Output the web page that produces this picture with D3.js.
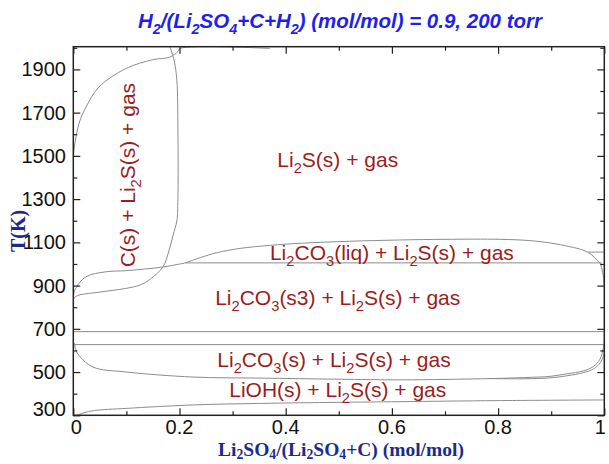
<!DOCTYPE html>
<meta charset='utf-8'>
<style>
  body { margin: 0; background: #fff; }
  .curve { fill: none; stroke: #8c8c8c; stroke-width: 1px; }
  .frame { fill: none; stroke: #222; stroke-width: 1.5px; }
  .ticklab { font-family: "Liberation Sans", Arial, sans-serif; font-size: 20px; fill: #111; }
  .region { font-family: "Liberation Sans", Arial, sans-serif; font-size: 21px; fill: #9b1d1d; }
</style>
<div id="chart"></div>
<script src="https://d3js.org/d3.v7.min.js"></script>
<script>
// tick labels
var xTicks = [0, 0.2, 0.4, 0.6, 0.8, 1];
var xTickLabels = ["0", "0.2", "0.4", "0.6", "0.8", "1"];
var yTicks = [300, 500, 700, 900, 1100, 1300, 1500, 1700, 1900];

// phase boundaries, [Li2SO4 fraction, T(K)]
var cLeft = [[0, 1490], [0.002, 1541], [0.011, 1652], [0.024, 1726], [0.048, 1818], [0.099, 1904],
  [0.150, 1945], [0.182, 1957], [0.197, 1983], [0.201, 1997], [0.37, 1997]];
var cRight = [[0.182, 2005], [0.190, 1940], [0.195, 1850], [0.197, 1620], [0.197, 1300], [0.195, 1200],
  [0.188, 1134], [0.180, 1060], [0.169, 987], [0.145, 930], [0.126, 903], [0.099, 887], [0.05, 870],
  [0.011, 856], [0.002, 845], [0, 835]];
var liqLeft = [[0.211, 1005], [0.169, 986], [0.099, 969], [0.062, 964], [0.024, 941], [0.005, 889],
  [0, 850], [0, 640]];
var liqTop = [[0.211, 1005], [0.24, 1030], [0.27, 1052], [0.314, 1072], [0.37, 1086], [0.43, 1096],
  [0.52, 1105], [0.615, 1111], [0.70, 1114], [0.804, 1114], [0.86, 1108], [0.898, 1097], [0.935, 1080],
  [0.960, 1064], [0.975, 1045], [0.986, 1018], [0.992, 1004], [0.997, 960], [1.0, 900], [1.0, 640]];
var liqBottom = [[0.211, 1005], [0.995, 1005]];
var rightStub = [[0.969, 1055], [1.0, 1055]];
var s3Top = [[0, 687], [1, 687]];
var s3Bottom = [[0, 627], [1, 627]];
var li2co3Bottom = [[0.002, 634], [0.005, 600], [0.013, 570], [0.037, 523], [0.101, 500], [0.225, 477],
  [0.352, 472], [0.50, 467], [0.615, 464], [0.70, 466], [0.804, 471], [0.866, 476], [0.898, 480],
  [0.930, 492], [0.960, 505], [0.979, 525], [0.992, 560], [0.998, 610], [1.0, 640]];
var li2co3Bottom2 = [[0.78, 470], [0.85, 469], [0.898, 473], [0.930, 483], [0.960, 497], [0.980, 515],
  [0.993, 545], [1.0, 587]];
var liohTop = [[0.003, 300], [0.010, 303], [0.02, 312], [0.04, 322], [0.1, 332], [0.226, 348],
  [0.352, 355], [0.5, 360], [0.615, 363], [0.8, 368], [1.0, 371]];

var curves = [cLeft, cRight, liqLeft, liqTop, liqBottom, rightStub, s3Top, s3Bottom,
  li2co3Bottom, li2co3Bottom2, liohTop];

// region names (_n = subscript) and where they sit, [x, T]
var regionNames = ["Li_2S(s) + gas", "C(s) + Li_2S(s) + gas", "Li_2CO_3(liq) + Li_2S(s) + gas",
  "Li_2CO_3(s3) + Li_2S(s) + gas", "Li_2CO_3(s) + Li_2S(s) + gas", "LiOH(s) + Li_2S(s) + gas"];
var regionAt = [[0.498, 1481], [0.103, 1411], [0.600, 1050], [0.498, 842], [0.491, 556], [0.498, 417]];

var width = 609, height = 464;
var svg = d3.select("#chart").append("svg")
  .attr("width", width)
  .attr("height", height);

var x = d3.scaleLinear().domain([0, 1]).range([73.3, 604.3]);
var y = d3.scaleLinear().domain([300, 2005]).range([415.3, 46.7]);

// writes "Li_2S" style strings with subscripts
function rich(text, str, fs, drop) {
  var parts = str.split(/(_\d)/);
  var shift = 0;
  drop = drop || 0.28;
  parts.forEach(function(p) {
    if (p === "") return;
    if (p[0] === "_") {
      text.append("tspan").attr("font-size", fs * 0.7).attr("dy", fs * drop).text(p[1]);
      shift = 1;
    } else {
      text.append("tspan").attr("dy", shift ? -fs * drop : 0).text(p);
      shift = 0;
    }
  });
}

svg.append("clipPath").attr("id", "clip")
  .append("rect").attr("x", x(0)).attr("y", y(2005)).attr("width", x(1) - x(0)).attr("height", y(300) - y(2005));

var line = d3.line()
  .x(function(d) { return x(d[0]); })
  .y(function(d) { return y(d[1]); })
  .curve(d3.curveCatmullRom.alpha(0.5));

svg.append("g").attr("clip-path", "url(#clip)")
  .selectAll("path")
  .data(curves)
  .enter().append("path")
  .attr("class", "curve")
  .attr("d", line);

// ticks, inward on all four sides
var xMinor = d3.range(0.1, 1, 0.2);
var yMinor = d3.range(400, 2001, 200);
var axes = [
  d3.axisBottom(x).tickValues(xTicks).tickSize(-7).tickFormat(""),
  d3.axisTop(x).tickValues(xTicks).tickSize(-7).tickFormat(""),
  d3.axisBottom(x).tickValues(xMinor).tickSize(-4).tickFormat(""),
  d3.axisTop(x).tickValues(xMinor).tickSize(-4).tickFormat(""),
  d3.axisLeft(y).tickValues(yTicks).tickSize(-7).tickFormat(""),
  d3.axisRight(y).tickValues(yTicks).tickSize(-7).tickFormat(""),
  d3.axisLeft(y).tickValues(yMinor).tickSize(-4).tickFormat(""),
  d3.axisRight(y).tickValues(yMinor).tickSize(-4).tickFormat("")
];
var pos = [[0, y(300)], [0, y(2005)], [0, y(300)], [0, y(2005)], [x(0), 0], [x(1), 0], [x(0), 0], [x(1), 0]];
axes.forEach(function(a, i) {
  var g = svg.append("g").attr("transform", "translate(" + pos[i] + ")").call(a);
  g.select(".domain").remove();
  g.selectAll(".tick line").attr("stroke", "#222").attr("stroke-width", 1.2);
});

svg.append("rect").attr("class", "frame")
  .attr("x", x(0)).attr("y", y(2005)).attr("width", x(1) - x(0)).attr("height", y(300) - y(2005));

// tick labels
svg.selectAll(".ylab").data(yTicks).enter().append("text")
  .attr("class", "ticklab")
  .attr("x", 66)
  .attr("y", function(d) { return y(d) + (d === 300 ? -6 : 0); })
  .attr("dy", "0.35em")
  .attr("text-anchor", "end")
  .text(function(d) { return d; });

svg.selectAll(".xlab").data(xTicks).enter().append("text")
  .attr("class", "ticklab")
  .attr("x", function(d) { return x(d) + (d === 0 ? 3 : d === 1 ? -4 : 0); })
  .attr("y", 427)
  .attr("dy", "0.35em")
  .attr("text-anchor", "middle")
  .text(function(d, i) { return xTickLabels[i]; });

// region labels
regionNames.forEach(function(name, i) {
  var cx = x(regionAt[i][0]), cy = y(regionAt[i][1]);
  var t = svg.append("text").attr("class", "region")
    .attr("text-anchor", "middle")
    .attr("transform", i === 1 ? "translate(" + (cx + 7) + "," + cy + ") rotate(-90)"
                               : "translate(" + cx + "," + (cy + 7) + ")");
  rich(t, name, 21);
});

// title and axis titles
var title = svg.append("text")
  .attr("x", 340).attr("y", 28)
  .attr("text-anchor", "middle")
  .attr("font-family", "Liberation Sans, Arial, sans-serif")
  .attr("font-size", 20.5).attr("font-weight", "bold").attr("font-style", "italic")
  .attr("fill", "#1f1ff0");
rich(title, "H_2/(Li_2SO_4+C+H_2) (mol/mol) = 0.9, 200 torr", 20.5);

var xt = svg.append("text")
  .attr("x", 341).attr("y", 455.5)
  .attr("text-anchor", "middle")
  .attr("font-family", "Liberation Serif, Times New Roman, serif")
  .attr("font-size", 19.5).attr("font-weight", "bold")
  .attr("fill", "#1c2a8f");
rich(xt, "Li_2SO_4/(Li_2SO_4+C) (mol/mol)", 19.5, 0.18);

svg.append("text")
  .attr("transform", "translate(25,231) rotate(-90)")
  .attr("text-anchor", "middle")
  .attr("font-family", "Liberation Serif, Times New Roman, serif")
  .attr("font-size", 20).attr("font-weight", "bold")
  .attr("fill", "#1c2a8f")
  .text("T(K)");
</script>
